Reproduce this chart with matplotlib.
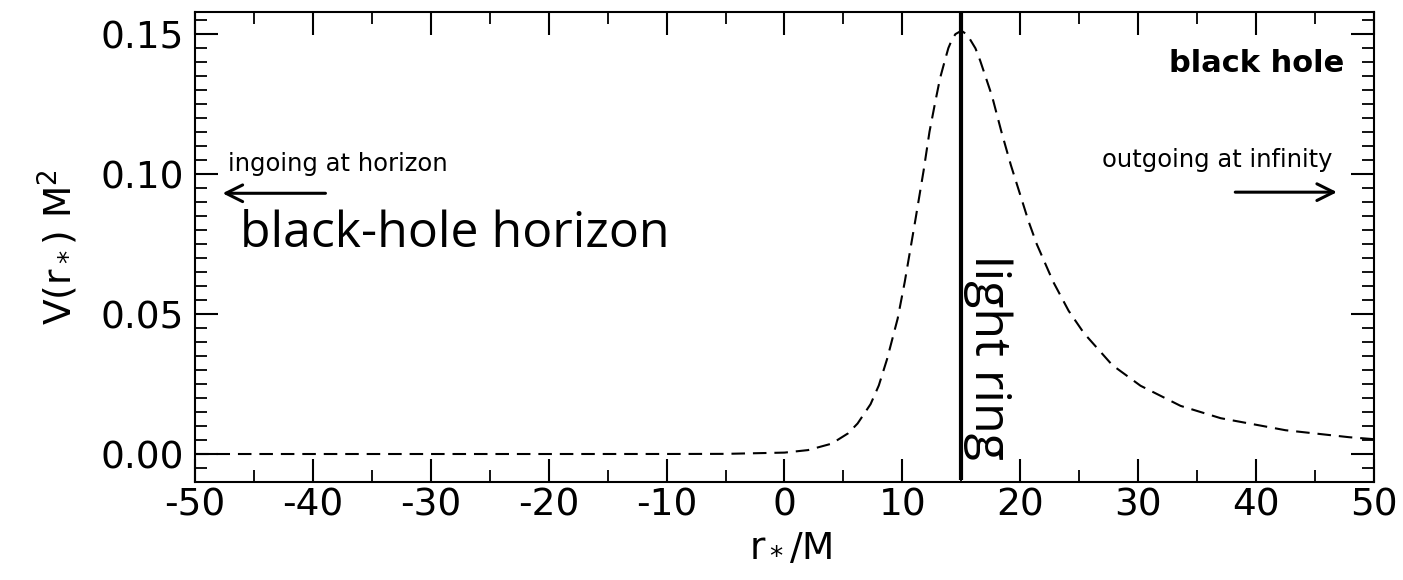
# Effective potential of a black hole vs tortoise coordinate, light ring marked

import matplotlib
matplotlib.use('Agg')
import matplotlib.pyplot as plt
from matplotlib.ticker import MultipleLocator, FormatStrFormatter

plt.rcParams['axes.unicode_minus'] = False

# Values
rStar = [-50, -40, -30, -20, -10, -5, 0, 2, 4, 5.4, 6.2, 7.3, 8.0, 8.7, 9.6, 10.2, 11.1,
         11.8, 12.3, 12.8, 13.2, 13.6, 13.9, 14.2, 14.5, 15.0, 15.5, 16.2, 16.6, 17.6,
         18.4, 19.2, 20.0, 20.7, 21.4, 22.8, 24.1, 25.4, 27.8, 30.2, 33.6, 37.0, 42.5,
         47.9, 50.0]
potential = [0.0, 0.0, 0.0, 0.0, 0.00001, 0.00005, 0.0005, 0.0014, 0.0037, 0.0074, 0.0109,
             0.0178, 0.0245, 0.0339, 0.0484, 0.0615, 0.0836, 0.1013, 0.1152, 0.1261,
             0.1344, 0.1406, 0.1451, 0.1481, 0.1501, 0.1513, 0.1499, 0.1450, 0.1406,
             0.1280, 0.1152, 0.1033, 0.0926, 0.0832, 0.0750, 0.0615, 0.0512, 0.0432,
             0.0318, 0.0244, 0.0172, 0.0128, 0.0085, 0.0060, 0.0053]
lightRing = 15

# Figure setup
fig = plt.figure(figsize = (14.03, 5.8), dpi = 100)
ax = fig.add_axes([0.139, 0.169, 0.8403, 0.8103])

ax.plot(rStar, potential, color = 'black', lw = 1.5, linestyle = (0, (6.5, 3.8)))
ax.plot([lightRing, lightRing], [-0.0092, 0.158], color = 'black', lw = 3, solid_capstyle = 'butt')

ax.set_xlim(-50, 50)
ax.set_ylim(-0.01, 0.158)

ax.xaxis.set_major_locator(MultipleLocator(10))
ax.xaxis.set_minor_locator(MultipleLocator(5))
ax.yaxis.set_major_locator(MultipleLocator(0.05))
ax.yaxis.set_minor_locator(MultipleLocator(0.005))
ax.yaxis.set_major_formatter(FormatStrFormatter('%.2f'))

ax.tick_params(which = 'both', direction = 'in', top = True, right = True, labelsize = 27)
ax.tick_params(which = 'major', length = 16.5, width = 1.5)
ax.tick_params(which = 'minor', length = 8.3, width = 1.3)
ax.tick_params(axis = 'x', pad = 4)
ax.tick_params(axis = 'y', pad = 8)
for spine in ax.spines.values():
    spine.set_linewidth(1.5)

ax.set_xlabel('r$_*$/M', fontsize = 27)
ax.set_ylabel('V(r$_*$) M$^2$', fontsize = 27)
ax.xaxis.set_label_coords(0.505, -0.1)
ax.yaxis.set_label_coords(-0.098, 0.5)

# Annotations
ax.text(47.5, 0.1364, 'black hole', fontsize = 22, fontweight = 'bold', ha = 'right', va = 'baseline')
ax.text(-47.2, 0.1011, 'ingoing at horizon', fontsize = 17.5, ha = 'left', va = 'baseline')
ax.text(46.5, 0.1025, 'outgoing at infinity', fontsize = 17.5, ha = 'right', va = 'baseline')
ax.annotate('', xy = (-47.9, 0.0932), xytext = (-38.7, 0.0932),
            arrowprops = dict(arrowstyle = '->', lw = 2.2, color = 'black', mutation_scale = 30))
ax.annotate('', xy = (47.1, 0.0936), xytext = (38.0, 0.0936),
            arrowprops = dict(arrowstyle = '->', lw = 2.2, color = 'black', mutation_scale = 30))
ax.text(-46.2, 0.0739, 'black-hole horizon', fontsize = 36, family = 'Open Sans',
        ha = 'left', va = 'baseline')
ax.text(15.14, 0.0711, 'light ring', fontsize = 36, family = 'Open Sans', rotation = 270,
        ha = 'left', va = 'top')

fig.savefig('out.png', dpi = 100)
